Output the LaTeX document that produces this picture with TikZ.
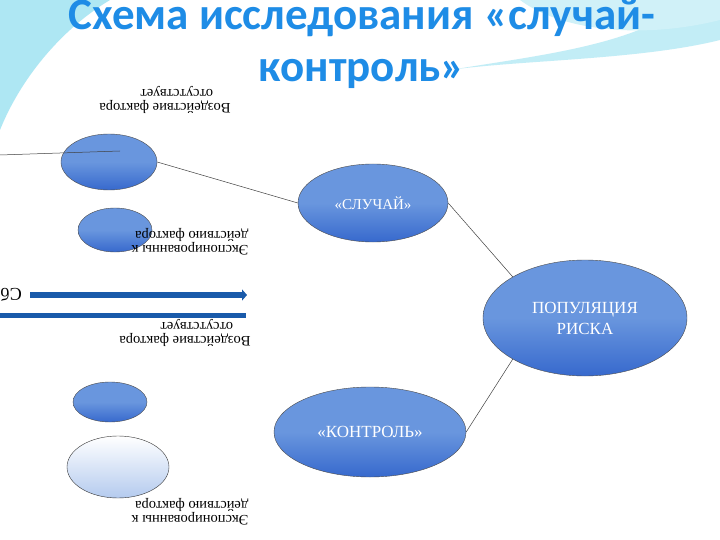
\documentclass[tikz,border=0pt]{standalone}
\usepackage{fontspec}
\setmainfont{Liberation Serif}
\newfontfamily\titlefont{Carlito}
\usetikzlibrary{shapes.geometric,arrows.meta}
\definecolor{ellblue}{RGB}{105,150,222}
\definecolor{elldark}{RGB}{55,105,205}
\definecolor{titleblue}{RGB}{30,140,230}
\definecolor{arrowblue}{RGB}{25,90,170}
\definecolor{wave}{RGB}{120,215,235}
\tikzset{
 ell/.style={ellipse,draw=black!70,line width=0.4pt,top color=ellblue,bottom color=elldark,middle color=ellblue,text=white,inner sep=0pt},
 paleell/.style={ellipse,draw=black!80,line width=0.4pt,top color=white,bottom color=ellblue!50,inner sep=0pt},
 flip/.style={rotate=180,align=left,font=\fontsize{14.5}{14.5}\selectfont,inner sep=0pt},
 conn/.style={draw=black!75,line width=0.5pt}
}
\begin{document}
\begin{tikzpicture}[x=1pt,y=-1pt]
\useasboundingbox (0,0) rectangle (720,540);
\fill[white] (0,0) rectangle (720,540);
% background waves
\fill[wave!60] (0,0) -- (110,0) .. controls (60,30) and (20,80) .. (0,130) -- cycle;
\fill[wave!45] (690,0) -- (720,0) -- (720,40) .. controls (640,60) and (520,60) .. (450,70) .. controls (540,55) and (640,45) .. (690,0);
\fill[wave!35] (520,0) .. controls (560,30) and (640,40) .. (720,20) -- (720,0) -- cycle;
% title
\node[font=\titlefont\bfseries\fontsize{45}{52}\selectfont,text=titleblue,align=center] (title) at (362,44) {Схема исследования «случай-\\контроль»};
% ellipses
\node[ell,minimum width=96,minimum height=56] (e1) at (109,162) {};
\node[ell,minimum width=74,minimum height=44] (e2) at (115,230) {};
\node[ell,minimum width=74,minimum height=40] (e3) at (110,402) {};
\node[paleell,minimum width=102,minimum height=62] (e4) at (118,467) {};
\node[ell,minimum width=150,minimum height=78,font=\fontsize{15}{15}\selectfont] (case) at (373,203) {«СЛУЧАЙ»};
\node[ell,minimum width=204,minimum height=116,font=\fontsize{17}{21}\selectfont,align=center] (pop) at (585,318) {ПОПУЛЯЦИЯ\\РИСКА};
\node[ell,minimum width=192,minimum height=90,font=\fontsize{17}{17}\selectfont] (ctrl) at (370,432) {«КОНТРОЛЬ»};
% connectors
\coordinate (l0) at (0,155);
\coordinate (l1) at (120,151);
\draw[conn] (l0) -- (l1);
\draw[conn] (e1.east) -- (case.west);
\draw[conn] (case.east) -- (pop.north west);
\draw[conn] (pop.south west) -- (ctrl.east);
% arrows
\coordinate (a0) at (30,295);
\coordinate (a1) at (247,295);
\draw[arrowblue,line width=6pt,-{Triangle[length=5pt,width=11pt]}] (a0) -- (a1);
\coordinate (b0) at (0,315);
\coordinate (b1) at (246,315);
\draw[arrowblue,line width=5pt] (b0) -- (b1);
\node[rotate=180,font=\fontsize{18}{18}\selectfont,anchor=west,inner sep=0pt] (sb) at (22,293) {Сбор};
% flipped labels
\node[flip] (t1) at (165,100) {Воздействие фактора\\\hspace*{1.2em}отсутствует};
\node[flip] (t2) at (190,242) {Экспонированны к\\действию фактора};
\node[flip] (t3) at (185,333) {Воздействие фактора\\\hspace*{1.2em}отсутствует};
\node[flip] (t4) at (190,512) {Экспонированны к\\действию фактора};
\end{tikzpicture}
\end{document}
